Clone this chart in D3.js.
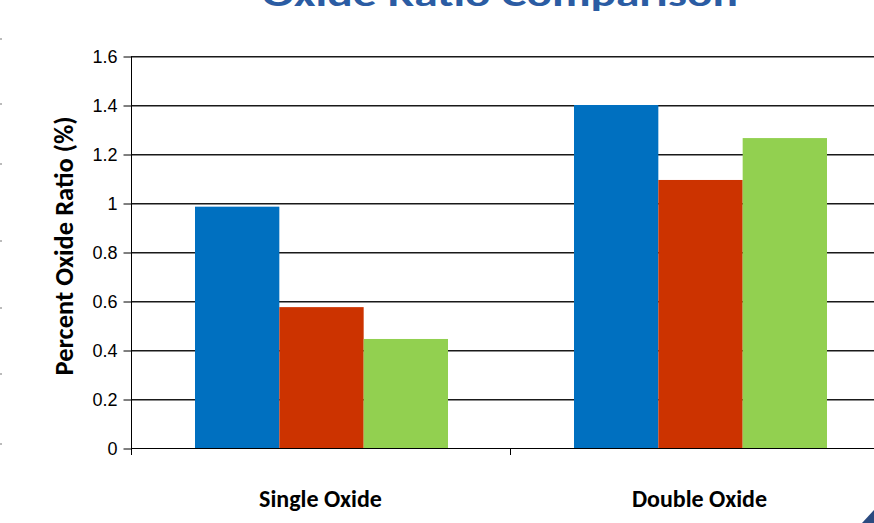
<!DOCTYPE html>
<html lang="en">
<head>
<meta charset="UTF-8">
<title>Oxide Ratio Comparison</title>
<script src="https://d3js.org/d3.v7.min.js"></script>
<style>
  html, body { margin: 0; padding: 0; background: #fff; overflow: hidden; }
</style>
</head>
<body>
<div class="canvas"></div>
<script>
  const categories = ['Single Oxide', 'Double Oxide']
  const series = ['A', 'B', 'C']
  const seriesA = [0.985, 1.40]
  const seriesB = [0.575, 1.094]
  const seriesC = [0.445, 1.265]
  const yTicks = [0, 0.2, 0.4, 0.6, 0.8, 1, 1.2, 1.4, 1.6]
  const colors = ['#0070C0', '#CC3300', '#92D050']

  const W = 874, H = 523
  const svg = d3.select('.canvas').append('svg')
    .attr('width', W).attr('height', H)

  // plot area runs off the right edge like the original slide
  const plotLeft = 131, plotTop = 56, plotBottom = 448
  const x = d3.scaleBand().domain(categories).range([plotLeft, plotLeft + 2 * 379])
  const y = d3.scaleLinear().domain([0, 1.6]).range([plotBottom, plotTop])
  const xs = d3.scaleBand().domain(series).range([0, 253])

  // gridlines (dark line with gray shade under it)
  const grid = svg.append('g')
  grid.selectAll('line.g1').data(yTicks.filter(d => d > 0)).enter().append('line')
    .attr('x1', plotLeft).attr('x2', W)
    .attr('y1', d => Math.round(y(d)) + 1.5).attr('y2', d => Math.round(y(d)) + 1.5)
    .attr('stroke', '#8a8a8a').attr('stroke-width', 1)
  grid.selectAll('line.g2').data(yTicks.filter(d => d > 0)).enter().append('line')
    .attr('x1', plotLeft).attr('x2', W)
    .attr('y1', d => Math.round(y(d)) + 0.5).attr('y2', d => Math.round(y(d)) + 0.5)
    .attr('stroke', '#1a1a1a').attr('stroke-width', 1)

  // bars
  const data = categories.map((c, i) => ({ cat: c, vals: [seriesA[i], seriesB[i], seriesC[i]] }))
  const groups = svg.selectAll('g.grp').data(data).enter().append('g')
    .attr('transform', d => `translate(${x(d.cat) + 64}, 0)`)
  groups.selectAll('rect').data(d => d.vals.map((v, j) => ({ s: series[j], v, j }))).enter().append('rect')
    .attr('x', d => xs(d.s))
    .attr('width', xs.bandwidth())
    .attr('y', d => y(d.v))
    .attr('height', d => y(0) - y(d.v))
    .attr('fill', d => colors[d.j])

  // y axis
  const yAxis = svg.append('g').attr('transform', `translate(${plotLeft + 0.5}, 0.5)`)
    .call(d3.axisLeft(y).tickValues(yTicks).tickSize(8).tickPadding(6).tickFormat(d => d3.format('')(+d.toFixed(1))))
  yAxis.attr('font-size', null).attr('font-family', null)
  yAxis.select('.domain').attr('stroke', '#000').attr('d', `M0,${plotTop}V${plotBottom}`)
  yAxis.selectAll('line').attr('stroke', '#000')
  yAxis.selectAll('text')
    .style('font-family', '"Liberation Sans", Arial, sans-serif')
    .style('font-size', '18px').attr('fill', '#000')

  // x axis
  svg.append('line').attr('x1', plotLeft).attr('x2', W)
    .attr('y1', plotBottom + 0.5).attr('y2', plotBottom + 0.5).attr('stroke', '#000').attr('stroke-width', 1.2)
  svg.selectAll('line.xt').data([plotLeft, plotLeft + 379]).enter().append('line')
    .attr('x1', d => d + 0.5).attr('x2', d => d + 0.5)
    .attr('y1', plotBottom).attr('y2', plotBottom + 7).attr('stroke', '#000')
  svg.selectAll('text.cat').data(categories).enter().append('text')
    .attr('x', d => x(d) + x.bandwidth() / 2)
    .attr('y', 507)
    .attr('text-anchor', 'middle')
    .style('font-family', 'Carlito, "Open Sans", sans-serif')
    .style('font-weight', 'bold').style('font-size', '24px')
    .text(d => d)

  // y title
  svg.append('text')
    .attr('transform', 'translate(73, 246) rotate(-90)')
    .attr('text-anchor', 'middle')
    .style('font-family', 'Carlito, "Open Sans", sans-serif')
    .style('font-weight', 'bold').style('font-size', '26.5px')
    .text('Percent Oxide Ratio (%)')

  // title, cut off at top
  svg.append('text')
    .attr('x', 262).attr('y', 6)
    .attr('textLength', 476).attr('lengthAdjust', 'spacingAndGlyphs')
    .style('font-family', 'Carlito, "Open Sans", sans-serif')
    .style('font-weight', 'bold').style('font-size', '34px')
    .attr('fill', '#2B5CA3')
    .text('Oxide Ratio Comparison')

  // slide leftovers on edges
  svg.selectAll('rect.mk').data([38, 103, 163, 240, 307, 373, 443]).enter().append('rect')
    .attr('x', 0).attr('y', d => d).attr('width', 2).attr('height', 2).attr('fill', '#bbb')
  svg.append('path').attr('d', 'M874,510 L874,523 L862,523 Z').attr('fill', '#2B4A80')
</script>
</body>
</html>
